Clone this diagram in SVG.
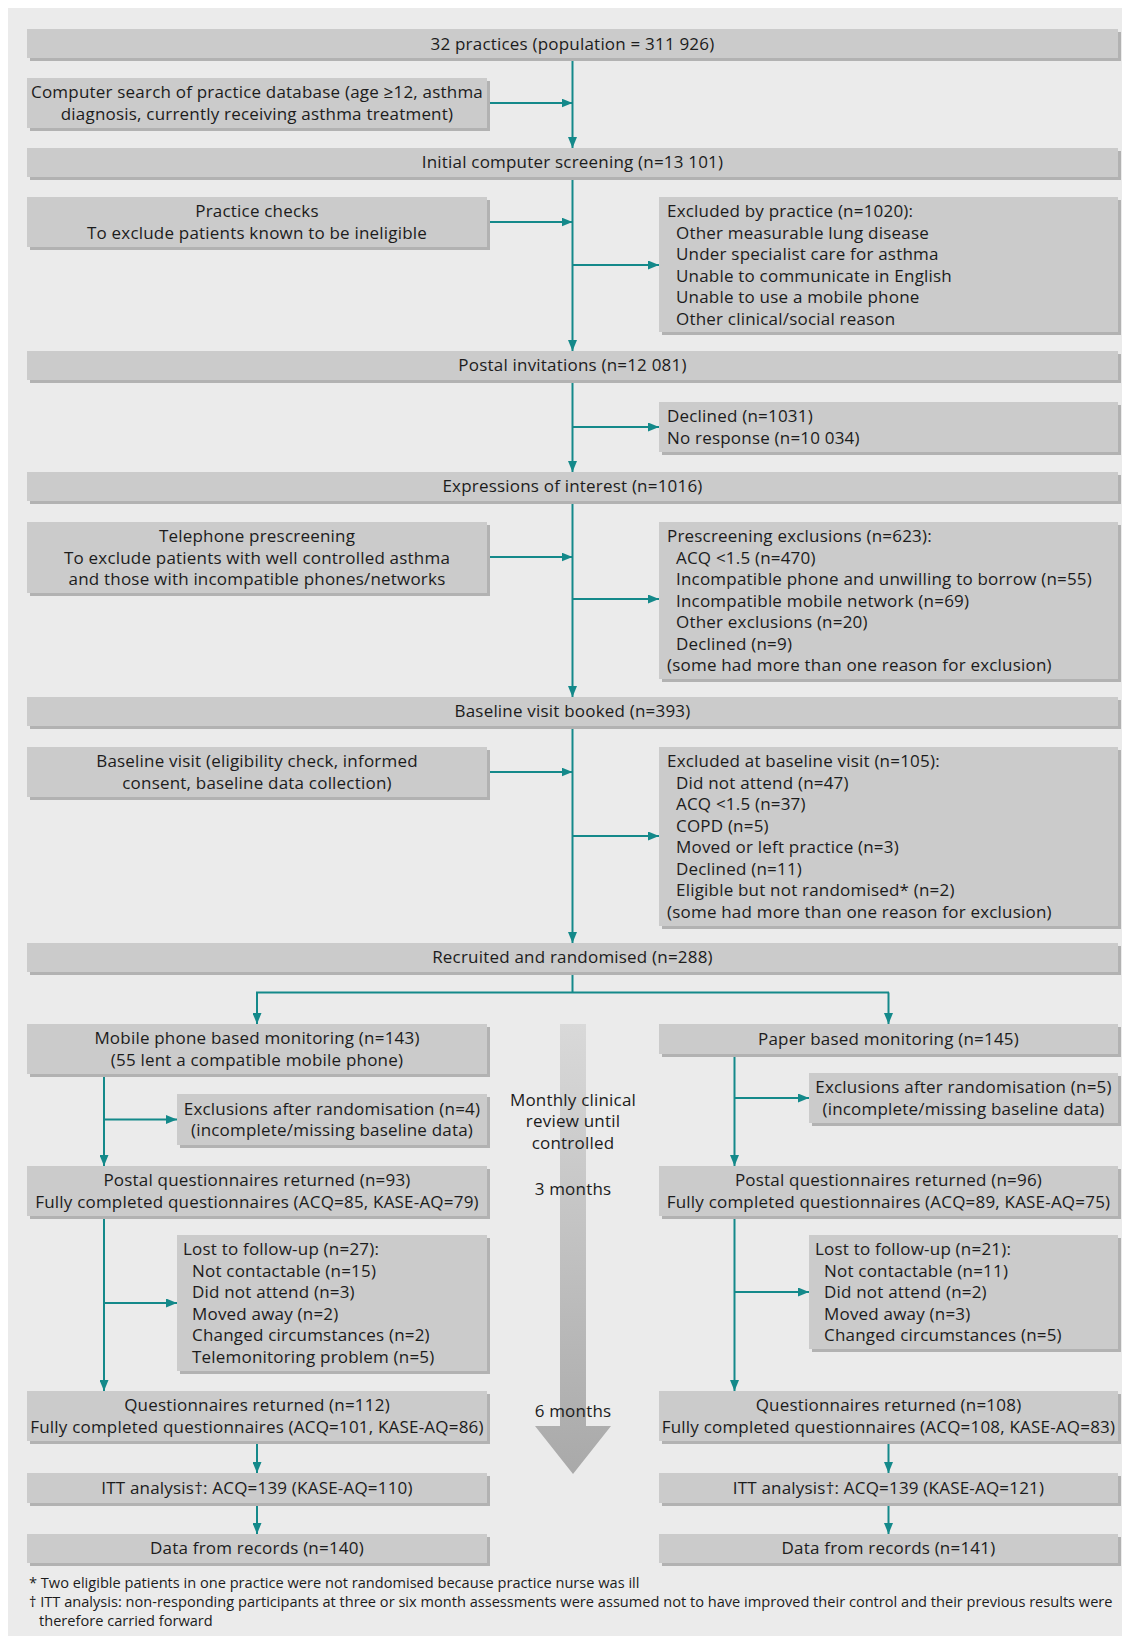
<svg xmlns="http://www.w3.org/2000/svg" width="1122" height="1636" viewBox="0 0 1122 1636">
<style>
.sh{fill:#b2b2b2}
.bx{fill:#cbcbcb}
.t{font-family:"Open Sans","Noto Sans","Liberation Sans",sans-serif;font-size:17px;letter-spacing:0.2px;fill:#1c1c1c}
.c{text-anchor:middle}
.f{font-family:"Open Sans","Noto Sans","Liberation Sans",sans-serif;font-size:14.6px;fill:#1c1c1c}
.ln{stroke:#14898a;stroke-width:2;fill:none}
.ar{marker-end:url(#ah)}
</style>
<defs>
<marker id="ah" markerUnits="userSpaceOnUse" markerWidth="11" markerHeight="9" refX="11" refY="4.5" orient="auto">
<path d="M0,0 L11,4.5 L0,9 Z" fill="#14898a"/>
</marker>
<linearGradient id="bg" x1="0" y1="0" x2="0" y2="1">
<stop offset="0" stop-color="#d9d9d9"/>
<stop offset="1" stop-color="#a9a9a9"/>
</linearGradient>
</defs>
<rect x="0" y="0" width="1122" height="1636" fill="#ffffff"/>
<rect x="8" y="8" width="1114" height="1628" fill="#ebebeb"/>

<g id="timeline">
<path d="M560,1024 L586,1024 L586,1426 L611,1426 L573,1474 L535,1426 L560,1426 Z" fill="url(#bg)"/>
<text class="t c" x="573" y="1106">Monthly clinical</text>
<text class="t c" x="573" y="1127">review until</text>
<text class="t c" x="573" y="1149">controlled</text>
<text class="t c" x="573" y="1195">3 months</text>
<text class="t c" x="573" y="1417">6 months</text>
</g>

<g id="connectors">
<line class="ln ar" x1="572.5" y1="58" x2="572.5" y2="148"/>
<line class="ln ar" x1="487" y1="103" x2="572.5" y2="103"/>
<line class="ln ar" x1="572.5" y1="177" x2="572.5" y2="351"/>
<line class="ln ar" x1="487" y1="222" x2="572.5" y2="222"/>
<line class="ln ar" x1="572.5" y1="265" x2="659" y2="265"/>
<line class="ln ar" x1="572.5" y1="380" x2="572.5" y2="472"/>
<line class="ln ar" x1="572.5" y1="427" x2="659" y2="427"/>
<line class="ln ar" x1="572.5" y1="501" x2="572.5" y2="697"/>
<line class="ln ar" x1="487" y1="557" x2="572.5" y2="557"/>
<line class="ln ar" x1="572.5" y1="599" x2="659" y2="599"/>
<line class="ln ar" x1="572.5" y1="726" x2="572.5" y2="943"/>
<line class="ln ar" x1="487" y1="772" x2="572.5" y2="772"/>
<line class="ln ar" x1="572.5" y1="836" x2="659" y2="836"/>
<line class="ln" x1="572.5" y1="972" x2="572.5" y2="992.5"/>
<line class="ln" x1="256" y1="992.5" x2="889" y2="992.5"/>
<line class="ln ar" x1="257" y1="992.5" x2="257" y2="1024"/>
<line class="ln ar" x1="888.5" y1="992.5" x2="888.5" y2="1024"/>
<line class="ln ar" x1="104" y1="1074" x2="104" y2="1166"/>
<line class="ln ar" x1="104" y1="1119.5" x2="177" y2="1119.5"/>
<line class="ln ar" x1="104" y1="1216" x2="104" y2="1391"/>
<line class="ln ar" x1="104" y1="1303" x2="177" y2="1303"/>
<line class="ln ar" x1="257" y1="1441" x2="257" y2="1473"/>
<line class="ln ar" x1="257" y1="1503" x2="257" y2="1534"/>
<line class="ln ar" x1="734.5" y1="1054" x2="734.5" y2="1166"/>
<line class="ln ar" x1="734.5" y1="1098" x2="809" y2="1098"/>
<line class="ln ar" x1="734.5" y1="1216" x2="734.5" y2="1391"/>
<line class="ln ar" x1="734.5" y1="1292" x2="809" y2="1292"/>
<line class="ln ar" x1="888.5" y1="1441" x2="888.5" y2="1473"/>
<line class="ln ar" x1="888.5" y1="1503" x2="888.5" y2="1534"/>
</g>

<g id="n-practices">
<rect class="sh" x="30" y="32" width="1091" height="29"/>
<rect class="bx" x="27" y="29" width="1091" height="29"/>
<text class="t c" x="572.5" y="49.5">32 practices (population = 311 926)</text>
</g>
<g id="n-search">
<rect class="sh" x="30" y="81" width="460" height="50"/>
<rect class="bx" x="27" y="78" width="460" height="50"/>
<text class="t c" x="257" y="98">Computer search of practice database (age ≥12, asthma</text>
<text class="t c" x="257" y="119.5">diagnosis, currently receiving asthma treatment)</text>
</g>
<g id="n-screening">
<rect class="sh" x="30" y="151" width="1091" height="29"/>
<rect class="bx" x="27" y="148" width="1091" height="29"/>
<text class="t c" x="572.5" y="168">Initial computer screening (n=13 101)</text>
</g>
<g id="n-checks">
<rect class="sh" x="30" y="200" width="460" height="50"/>
<rect class="bx" x="27" y="197" width="460" height="50"/>
<text class="t c" x="257" y="217">Practice checks</text>
<text class="t c" x="257" y="238.5">To exclude patients known to be ineligible</text>
</g>
<g id="n-excl-practice">
<rect class="sh" x="662" y="200" width="459" height="135"/>
<rect class="bx" x="659" y="197" width="459" height="135"/>
<text class="t" x="667" y="217">Excluded by practice (n=1020):</text>
<text class="t" x="676" y="238.5">Other measurable lung disease</text>
<text class="t" x="676" y="260">Under specialist care for asthma</text>
<text class="t" x="676" y="281.5">Unable to communicate in English</text>
<text class="t" x="676" y="303">Unable to use a mobile phone</text>
<text class="t" x="676" y="324.5">Other clinical/social reason</text>
</g>
<g id="n-postal">
<rect class="sh" x="30" y="354" width="1091" height="29"/>
<rect class="bx" x="27" y="351" width="1091" height="29"/>
<text class="t c" x="572.5" y="371">Postal invitations (n=12 081)</text>
</g>
<g id="n-declined">
<rect class="sh" x="662" y="405" width="459" height="50"/>
<rect class="bx" x="659" y="402" width="459" height="50"/>
<text class="t" x="667" y="422">Declined (n=1031)</text>
<text class="t" x="667" y="443.5">No response (n=10 034)</text>
</g>
<g id="n-interest">
<rect class="sh" x="30" y="475" width="1091" height="29"/>
<rect class="bx" x="27" y="472" width="1091" height="29"/>
<text class="t c" x="572.5" y="492">Expressions of interest (n=1016)</text>
</g>
<g id="n-telephone">
<rect class="sh" x="30" y="525" width="460" height="71"/>
<rect class="bx" x="27" y="522" width="460" height="71"/>
<text class="t c" x="257" y="542">Telephone prescreening</text>
<text class="t c" x="257" y="563.5">To exclude patients with well controlled asthma</text>
<text class="t c" x="257" y="585">and those with incompatible phones/networks</text>
</g>
<g id="n-prescreen-excl">
<rect class="sh" x="662" y="525" width="459" height="157"/>
<rect class="bx" x="659" y="522" width="459" height="157"/>
<text class="t" x="667" y="542">Prescreening exclusions (n=623):</text>
<text class="t" x="676" y="563.5">ACQ &lt;1.5 (n=470)</text>
<text class="t" x="676" y="585">Incompatible phone and unwilling to borrow (n=55)</text>
<text class="t" x="676" y="606.5">Incompatible mobile network (n=69)</text>
<text class="t" x="676" y="628">Other exclusions (n=20)</text>
<text class="t" x="676" y="649.5">Declined (n=9)</text>
<text class="t" x="667" y="671">(some had more than one reason for exclusion)</text>
</g>
<g id="n-booked">
<rect class="sh" x="30" y="700" width="1091" height="29"/>
<rect class="bx" x="27" y="697" width="1091" height="29"/>
<text class="t c" x="572.5" y="717">Baseline visit booked (n=393)</text>
</g>
<g id="n-visit">
<rect class="sh" x="30" y="750" width="460" height="50"/>
<rect class="bx" x="27" y="747" width="460" height="50"/>
<text class="t c" x="257" y="767">Baseline visit (eligibility check, informed</text>
<text class="t c" x="257" y="788.5">consent, baseline data collection)</text>
</g>
<g id="n-baseline-excl">
<rect class="sh" x="662" y="750" width="459" height="179"/>
<rect class="bx" x="659" y="747" width="459" height="179"/>
<text class="t" x="667" y="767">Excluded at baseline visit (n=105):</text>
<text class="t" x="676" y="788.5">Did not attend (n=47)</text>
<text class="t" x="676" y="810">ACQ &lt;1.5 (n=37)</text>
<text class="t" x="676" y="831.5">COPD (n=5)</text>
<text class="t" x="676" y="853">Moved or left practice (n=3)</text>
<text class="t" x="676" y="874.5">Declined (n=11)</text>
<text class="t" x="676" y="896">Eligible but not randomised* (n=2)</text>
<text class="t" x="667" y="917.5">(some had more than one reason for exclusion)</text>
</g>
<g id="n-randomised">
<rect class="sh" x="30" y="946" width="1091" height="29"/>
<rect class="bx" x="27" y="943" width="1091" height="29"/>
<text class="t c" x="572.5" y="963">Recruited and randomised (n=288)</text>
</g>
<g id="n-mobile">
<rect class="sh" x="30" y="1027" width="460" height="50"/>
<rect class="bx" x="27" y="1024" width="460" height="50"/>
<text class="t c" x="257" y="1044">Mobile phone based monitoring (n=143)</text>
<text class="t c" x="257" y="1065.5">(55 lent a compatible mobile phone)</text>
</g>
<g id="n-paper">
<rect class="sh" x="662" y="1027" width="459" height="30"/>
<rect class="bx" x="659" y="1024" width="459" height="30"/>
<text class="t c" x="888.5" y="1044.5">Paper based monitoring (n=145)</text>
</g>
<g id="n-excl-rand-left">
<rect class="sh" x="180" y="1097" width="310" height="51"/>
<rect class="bx" x="177" y="1094" width="310" height="51"/>
<text class="t c" x="332" y="1114.5">Exclusions after randomisation (n=4)</text>
<text class="t c" x="332" y="1136">(incomplete/missing baseline data)</text>
</g>
<g id="n-excl-rand-right">
<rect class="sh" x="812" y="1076" width="309" height="50"/>
<rect class="bx" x="809" y="1073" width="309" height="50"/>
<text class="t c" x="963.5" y="1093">Exclusions after randomisation (n=5)</text>
<text class="t c" x="963.5" y="1114.5">(incomplete/missing baseline data)</text>
</g>
<g id="n-postal-left">
<rect class="sh" x="30" y="1169" width="460" height="50"/>
<rect class="bx" x="27" y="1166" width="460" height="50"/>
<text class="t c" x="257" y="1186">Postal questionnaires returned (n=93)</text>
<text class="t c" x="257" y="1207.5">Fully completed questionnaires (ACQ=85, KASE-AQ=79)</text>
</g>
<g id="n-postal-right">
<rect class="sh" x="662" y="1169" width="459" height="50"/>
<rect class="bx" x="659" y="1166" width="459" height="50"/>
<text class="t c" x="888.5" y="1186">Postal questionnaires returned (n=96)</text>
<text class="t c" x="888.5" y="1207.5">Fully completed questionnaires (ACQ=89, KASE-AQ=75)</text>
</g>
<g id="n-lost-left">
<rect class="sh" x="180" y="1238" width="310" height="136"/>
<rect class="bx" x="177" y="1235" width="310" height="136"/>
<text class="t" x="183" y="1255">Lost to follow-up (n=27):</text>
<text class="t" x="192" y="1276.5">Not contactable (n=15)</text>
<text class="t" x="192" y="1298">Did not attend (n=3)</text>
<text class="t" x="192" y="1319.5">Moved away (n=2)</text>
<text class="t" x="192" y="1341">Changed circumstances (n=2)</text>
<text class="t" x="192" y="1362.5">Telemonitoring problem (n=5)</text>
</g>
<g id="n-lost-right">
<rect class="sh" x="812" y="1238" width="309" height="114"/>
<rect class="bx" x="809" y="1235" width="309" height="114"/>
<text class="t" x="815" y="1255">Lost to follow-up (n=21):</text>
<text class="t" x="824" y="1276.5">Not contactable (n=11)</text>
<text class="t" x="824" y="1298">Did not attend (n=2)</text>
<text class="t" x="824" y="1319.5">Moved away (n=3)</text>
<text class="t" x="824" y="1341">Changed circumstances (n=5)</text>
</g>
<g id="n-quest-left">
<rect class="sh" x="30" y="1394" width="460" height="50"/>
<rect class="bx" x="27" y="1391" width="460" height="50"/>
<text class="t c" x="257" y="1411">Questionnaires returned (n=112)</text>
<text class="t c" x="257" y="1432.5">Fully completed questionnaires (ACQ=101, KASE-AQ=86)</text>
</g>
<g id="n-quest-right">
<rect class="sh" x="662" y="1394" width="459" height="50"/>
<rect class="bx" x="659" y="1391" width="459" height="50"/>
<text class="t c" x="888.5" y="1411">Questionnaires returned (n=108)</text>
<text class="t c" x="888.5" y="1432.5">Fully completed questionnaires (ACQ=108, KASE-AQ=83)</text>
</g>
<g id="n-itt-left">
<rect class="sh" x="30" y="1476" width="460" height="30"/>
<rect class="bx" x="27" y="1473" width="460" height="30"/>
<text class="t c" x="257" y="1493.5">ITT analysis†: ACQ=139 (KASE-AQ=110)</text>
</g>
<g id="n-itt-right">
<rect class="sh" x="662" y="1476" width="459" height="30"/>
<rect class="bx" x="659" y="1473" width="459" height="30"/>
<text class="t c" x="888.5" y="1493.5">ITT analysis†: ACQ=139 (KASE-AQ=121)</text>
</g>
<g id="n-records-left">
<rect class="sh" x="30" y="1537" width="460" height="29"/>
<rect class="bx" x="27" y="1534" width="460" height="29"/>
<text class="t c" x="257" y="1554">Data from records (n=140)</text>
</g>
<g id="n-records-right">
<rect class="sh" x="662" y="1537" width="459" height="29"/>
<rect class="bx" x="659" y="1534" width="459" height="29"/>
<text class="t c" x="888.5" y="1554">Data from records (n=141)</text>
</g>

<g id="footnotes">
<text class="f" x="29" y="1588">* Two eligible patients in one practice were not randomised because practice nurse was ill</text>
<text class="f" x="29" y="1607">† ITT analysis: non-responding participants at three or six month assessments were assumed not to have improved their control and their previous results were</text>
<text class="f" x="39" y="1626">therefore carried forward</text>
</g>
</svg>
